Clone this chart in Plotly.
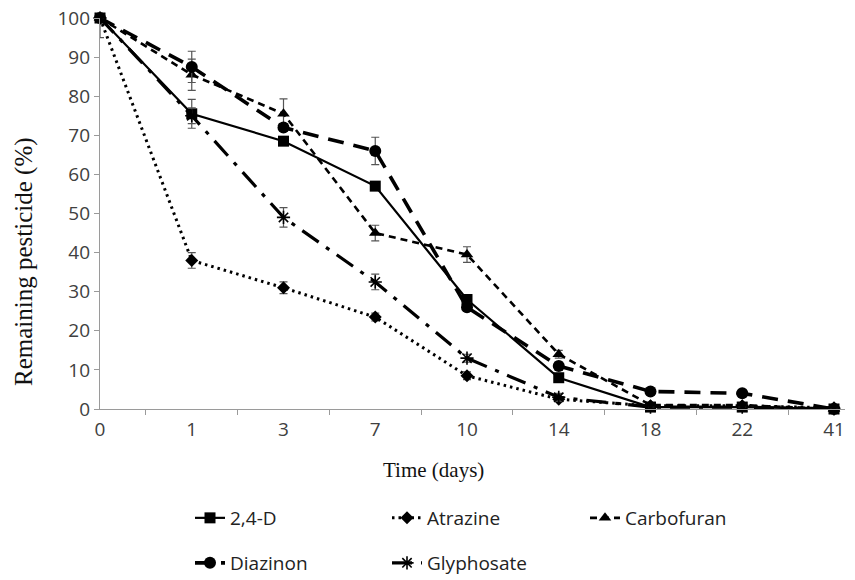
import plotly.graph_objects as go

days = ["0", "1", "3", "7", "10", "14", "18", "22", "41"]

d24 = [100, 75.5, 68.5, 57, 28, 8, 0.5, 0.5, 0]
atrazine = [100, 38, 31, 23.5, 8.5, 2.5, 0.8, 0.8, 0.3]
carbofuran = [100, 85.5, 75.5, 45, 39.5, 14, 1, 1, 0]
diazinon = [100, 87.5, 72, 66, 26, 11, 4.5, 4, 0]
glyphosate = [100, 75, 49, 32.5, 13, 3, 0.5, 0.5, 0]

d24_err = [5, 3.7, 1, 1, 1, 1, 0, 0, 0]
atrazine_err = [0, 2, 1.5, 1, 1, 0.5, 0, 0, 0]
carbofuran_err = [0, 4, 3.8, 2, 2, 1, 0, 0, 0]
diazinon_err = [0, 4, 1, 3.5, 1, 1, 0.5, 0.5, 0]
glyphosate_err = [0, 2, 2.5, 2, 1, 1, 0, 0, 0]

names = ["2,4-D", "Atrazine", "Carbofuran", "Diazinon", "Glyphosate"]
series = [d24, atrazine, carbofuran, diazinon, glyphosate]
errors = [d24_err, atrazine_err, carbofuran_err, diazinon_err, glyphosate_err]

x_title = "Time (days)"
y_title = "Remaining pesticide (%)"

styles = [
    dict(dash="solid", width=2.2, symbol="square", size=11, mline=0),
    dict(dash="2.5px,4px", width=3, symbol="diamond", size=10, mline=0),
    dict(dash="7px,5px", width=2.6, symbol="triangle-up", size=11, mline=0),
    dict(dash="16px,10px", width=3.6, symbol="circle", size=12, mline=0),
    dict(dash="20px,9px,4px,9px", width=3.2, symbol="asterisk-open", size=11, mline=1.6),
]

# legend placement: text start px and row center px
leg_pos = [(230, 518), (427, 518), (625, 518), (230, 563), (427, 563)]
legend_ids = ["legend", "legend2", "legend3", "legend4", "legend5"]

fig = go.Figure()
for name, ys, err, st, lid in zip(names, series, errors, styles, legend_ids):
    fig.add_trace(go.Scatter(
        x=days, y=ys, name=name, mode="lines+markers",
        line=dict(color="black", width=st["width"], dash=st["dash"]),
        marker=dict(symbol=st["symbol"], size=st["size"], color="black",
                    line=dict(color="black", width=st["mline"])),
        error_y=dict(type="data", array=err, visible=True, color="#555555",
                     thickness=1.2, width=4),
        cliponaxis=False,
        legend=lid,
    ))

L, R, T, B = 100, 845, 18, 409
W, H = 855, 580
pw, ph = R - L, B - T

layout_legends = {}
for lid, (tx, cy) in zip(legend_ids, leg_pos):
    layout_legends[lid] = dict(
        x=(tx - 40 - L) / pw, y=(B - cy) / ph, xanchor="left", yanchor="middle",
        orientation="h", bgcolor="rgba(0,0,0,0)", borderwidth=0,
        font=dict(family="Open Sans", size=19, color="#222222"),
    )

fig.update_layout(
    width=W, height=H,
    margin=dict(l=L, r=W - R, t=T, b=H - B, autoexpand=False),
    plot_bgcolor="white", paper_bgcolor="white",
    showlegend=True,
    annotations=[
        dict(text=x_title, xref="paper", yref="paper",
             x=(433 - L) / pw, y=(B - 470) / ph, xanchor="center", yanchor="middle",
             showarrow=False,
             font=dict(family="Liberation Serif", size=21, color="#111111")),
        dict(text=y_title, xref="paper", yref="paper",
             x=(24 - L) / pw, y=(B - 262) / ph, xanchor="center", yanchor="middle",
             textangle=-90, showarrow=False,
             font=dict(family="Liberation Serif", size=25, color="#111111")),
    ],
    **layout_legends,
)

fig.update_xaxes(
    type="category", range=[0, 8.12],
    showline=True, linecolor="#9a9a9a", linewidth=1.3,
    ticks="outside", tickson="boundaries", ticklen=5, tickcolor="#9a9a9a",
    showgrid=False, zeroline=False, ticklabelstandoff=3,
    tickfont=dict(family="Open Sans", size=19, color="#404040"),
)
fig.update_yaxes(
    range=[0, 100], dtick=10,
    showline=True, linecolor="#9a9a9a", linewidth=1.3,
    ticks="outside", ticklen=5, tickcolor="#9a9a9a",
    showgrid=False, zeroline=False,
    tickfont=dict(family="Open Sans", size=19, color="#404040"),
)

fig.write_html("out.html",
               config={"displayModeBar": False},
               post_script="document.body.style.margin='0';document.body.style.padding='0';")
